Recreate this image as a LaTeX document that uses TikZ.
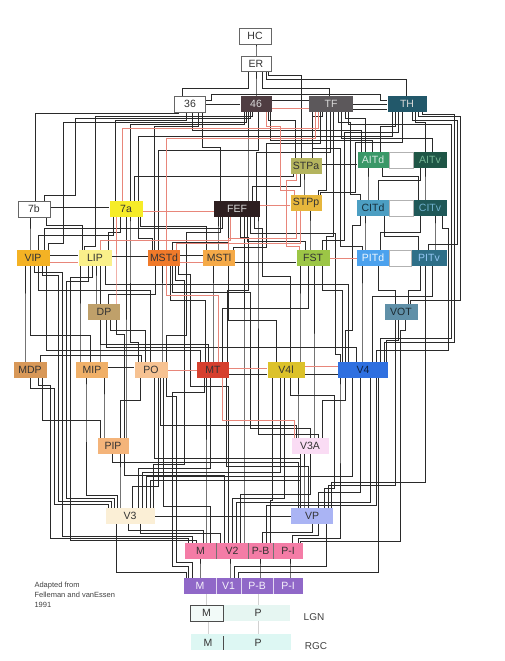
\documentclass[tikz,border=0pt]{standalone}
\usepackage{fontspec}
\setmainfont{Liberation Sans}
\usetikzlibrary{backgrounds}
\definecolor{wireK}{HTML}{2A2A2A}
\definecolor{wireR}{HTML}{E8867A}
\definecolor{c46}{HTML}{4F3D42}
\definecolor{cTF}{HTML}{5C585B}
\definecolor{cTH}{HTML}{22586A}
\definecolor{cSTPa}{HTML}{B4B45E}
\definecolor{cAITd}{HTML}{3A9868}
\definecolor{cAITv}{HTML}{1F5646}
\definecolor{c7a}{HTML}{F6EC28}
\definecolor{cFEF}{HTML}{2E1F20}
\definecolor{cSTPp}{HTML}{E6B63C}
\definecolor{cCITd}{HTML}{4C9EC2}
\definecolor{cCITv}{HTML}{1F5858}
\definecolor{cVIP}{HTML}{F4B224}
\definecolor{cLIP}{HTML}{FAF08A}
\definecolor{cMSTd}{HTML}{F07A2A}
\definecolor{cMSTl}{HTML}{F5AA48}
\definecolor{cFST}{HTML}{9CC646}
\definecolor{cPITd}{HTML}{4CA2EE}
\definecolor{cPITv}{HTML}{2E6F88}
\definecolor{cDP}{HTML}{BFA06A}
\definecolor{cVOT}{HTML}{6090A8}
\definecolor{cMDP}{HTML}{D89858}
\definecolor{cMIP}{HTML}{F0B068}
\definecolor{cPO}{HTML}{F6C292}
\definecolor{cMT}{HTML}{D6402E}
\definecolor{cVfl}{HTML}{DCC22A}
\definecolor{cVf}{HTML}{2F70E0}
\definecolor{cPIP}{HTML}{F4B47A}
\definecolor{cVtA}{HTML}{FADCF4}
\definecolor{cVt}{HTML}{FBEFD6}
\definecolor{cVP}{HTML}{AAB4F4}
\definecolor{cVtwo}{HTML}{F47CA6}
\definecolor{cVone}{HTML}{9068C8}
\definecolor{cLGN}{HTML}{E6F6F2}
\definecolor{cRGC}{HTML}{DDF7F3}
\newcommand{\wire}[8][wk]{%
  \path (#4,0) coordinate (wl) (#8,0) coordinate (wu) (0,#7) coordinate (wy);
  \draw[#1] (#2.north -| wl) |- (#6,#5) |- (wu |- wy) -- (#3.south -| wu);}
\newcommand{\hwire}[4][wk]{%
  \path (0,#4) coordinate (wy);
  \draw[#1] (#2.east |- wy) -- (#3.west |- wy);}

\begin{document}
\begin{tikzpicture}[x=1pt, y=-1pt,
  area/.style={minimum height=16pt, inner sep=0pt, font=\fontsize{10.5}{12}\selectfont, text=black!80},
  plain/.style={area, draw=black!60, fill=white, line width=0.5pt},
  dark/.style={area, text=white!85!black},
  wk/.style={draw=wireK, line width=0.55pt},
  wr/.style={draw=wireR, line width=0.5pt},
  tewhite/.style={fill=white, draw=black!30, line width=0.4pt},
  faint/.style={draw=black!18, line width=0.5pt},
  tag/.style={font=\fontsize{10}{12}\selectfont, text=black!75},
]
\useasboundingbox (0,0) rectangle (504,661);

\node[plain, minimum width=32pt] (HC) at (255,36) {HC};
\node[plain, minimum width=30pt, minimum height=15pt] (ER) at (256,64) {ER};
\node[plain, minimum width=31pt] (a36) at (190,104) {36};
\node[dark, fill=c46, minimum width=31pt] (a46) at (256,104) {46};
\node[dark, fill=cTF, minimum width=44pt] (TF) at (331,104) {TF};
\node[dark, fill=cTH, minimum width=39pt] (TH) at (407,104) {TH};
\node[area, fill=cSTPa, minimum width=31pt] (STPa) at (306,166) {STPa};
\node[area, fill=cAITd, minimum width=31pt, text=white!80!cAITd] (AITd) at (373,160) {AITd};
\node[area, fill=cAITv, minimum width=33pt, text=cAITd!70!white] (AITv) at (430,160) {AITv};
\node[plain, minimum width=32pt] (a7b) at (34,209) {7b};
\node[area, fill=c7a, minimum width=33pt] (a7a) at (126,209) {7a};
\node[dark, fill=cFEF, minimum width=46pt] (FEF) at (237,209) {FEF};
\node[area, fill=cSTPp, minimum width=31pt] (STPp) at (306,203) {STPp};
\node[area, fill=cCITd, minimum width=32pt, text=black!70!cCITd] (CITd) at (373,208) {CITd};
\node[area, fill=cCITv, minimum width=33pt, text=cCITd!80!white] (CITv) at (430,208) {CITv};
\node[area, fill=cVIP, minimum width=33pt] (VIP) at (33,258) {VIP};
\node[area, fill=cLIP, minimum width=33pt] (LIP) at (95,258) {LIP};
\node[area, fill=cMSTd, minimum width=32pt] (MSTd) at (164,258) {MSTd};
\node[area, fill=cMSTl, minimum width=32pt] (MSTl) at (219,258) {MSTl};
\node[area, fill=cFST, minimum width=33pt] (FST) at (313,258) {FST};
\node[area, fill=cPITd, minimum width=32pt, text=white!90!cPITd] (PITd) at (373,258) {PITd};
\node[area, fill=cPITv, minimum width=35pt, text=cPITd!60!white] (PITv) at (429,258) {PITv};
\node[area, fill=cDP, minimum width=32pt] (DP) at (104,312) {DP};
\node[area, fill=cVOT, minimum width=33pt, text=black!70!cVOT] (VOT) at (401,312) {VOT};
\node[area, fill=cMDP, minimum width=33pt] (MDP) at (30,370) {MDP};
\node[area, fill=cMIP, minimum width=32pt] (MIP) at (92,370) {MIP};
\node[area, fill=cPO, minimum width=33pt] (PO) at (151,370) {PO};
\node[area, fill=cMT, minimum width=32pt] (MT) at (213,370) {MT};
\node[area, fill=cVfl, minimum width=37pt] (V4l) at (286,370) {V4l};
\node[area, fill=cVf, minimum width=50pt, text=black!70!cVf] (V4) at (363,370) {V4};
\node[area, fill=cPIP, minimum width=31pt] (PIP) at (113,446) {PIP};
\node[area, fill=cVtA, minimum width=37pt] (V3A) at (310,446) {V3A};
\node[area, fill=cVt, minimum width=49pt] (V3) at (130,516) {V3};
\node[area, fill=cVP, minimum width=42pt] (VP) at (312,516) {VP};
\node[area, fill=cVtwo, minimum width=31pt] (V2m) at (200.5,551) {M};
\node[area, fill=cVtwo, minimum width=32pt] (V2c) at (232,551) {V2};
\node[area, fill=cVtwo, minimum width=25pt] (V2pb) at (260.5,551) {P-B};
\node[area, fill=cVtwo, minimum width=30pt] (V2pi) at (288,551) {P-I};
\node[area, fill=cVone, minimum width=32pt, text=white!92!cVone] (V1m) at (200,586) {M};
\node[area, fill=cVone, minimum width=25pt, text=white!92!cVone] (V1c) at (228.5,586) {V1};
\node[area, fill=cVone, minimum width=32pt, text=white!92!cVone] (V1pb) at (257,586) {P-B};
\node[area, fill=cVone, minimum width=30pt, text=white!92!cVone] (V1pi) at (288,586) {P-I};
\draw[black!55, line width=0.4pt] (V2m.north east) -- (V2m.south east)
  (V2c.north east) -- (V2c.south east) (V2pb.north east) -- (V2pb.south east);
\draw[white!75!cVone, line width=0.4pt] (V1m.north east) -- (V1m.south east)
  (V1c.north east) -- (V1c.south east) (V1pb.north east) -- (V1pb.south east);

\fill[cLGN] (190,605) rectangle (290,621);
\node[area, draw=black!70, fill=cLGN!50!white, minimum width=33pt] (LGNm) at (206.5,613) {M};
\node[area] (LGNp) at (258,613) {P};
\node[tag] (LGN) at (314,617) {LGN};
\fill[cRGC] (191,634) rectangle (291,650);
\node[area] (RGCm) at (208,643) {M};
\node[area] (RGCp) at (258,643) {P};
\draw[black!70, line width=0.9pt] (223,636) -- (223,650);
\node[tag] (RGC) at (316,646) {RGC};
\node[anchor=north west, align=left, font=\fontsize{7.5}{10}\selectfont, text=black!75] (credit)
  at (31,579) {Adapted from\\Felleman and vanEssen\\1991};

\begin{scope}[on background layer]
\draw[tewhite] (AITd.north east) rectangle (AITv.south west);
\draw[tewhite] (CITd.north east) rectangle (CITv.south west);
\draw[tewhite] (PITd.north east) rectangle (PITv.south west);
\draw[faint] (V1m.south -| LGNm) -- (LGNm.north);
\draw[faint] (V1pb.south -| LGNp) -- (LGNp.north);
\draw[faint] (LGNm.south -| RGCm) -- (RGCm.north);
\draw[faint] (LGNp.south) -- (RGCp.north);

\foreach \lw/\uw/\xa/\ya/\xb in {ER/HC/256/48/256, a46/ER/256/85/256, a36/ER/182/88/248,
  TF/ER/329/88/262, TH/ER/406/79/266, STPa/ER/301/75/268, a7b/a36/35/113/178,
  VIP/a7b/30/240/30, VIP/a7a/38/235/113, VIP/FEF/44/228/222, LIP/a7a/108/232/120,
  LIP/a7b/82/225/46, MSTd/a7a/152/238/138, MSTd/a46/158/150/258, MSTd/a36/154/126/198,
  MSTd/FEF/172/242/228, MSTl/FEF/218/235/218, MSTl/a7a/206/226/140, FST/STPp/310/230/310,
  FST/TF/326/236/333, FST/FEF/305/241/247, STPp/STPa/304/185/304, STPp/TF/318/190/326,
  STPa/a46/295/120/268, STPa/TF/312/116/322, AITd/TF/365/118/345, AITd/TH/380/126/395,
  AITv/TH/425/122/415, AITv/TF/432/138/341, AITd/a46/372/140/270, AITd/a36/361/130/192,
  CITd/AITd/368/185/368, CITd/AITv/378/180/420, CITv/AITv/425/185/425, CITv/AITd/418/176/382,
  PITd/CITd/365/230/365, PITd/CITv/380/232/420, PITv/CITv/435/230/435, PITv/CITd/418/236/384,
  VOT/PITd/395/290/378, VOT/PITv/408/290/420, V4/VOT/386/340/398, V4/PITd/362/300/362,
  V4/PITv/372/296/432, V4/FST/342/290/322, V4/LIP/348/284/105, V4/DP/356/347/106,
  V4l/MSTl/276/320/228, V4l/FST/300/320/300, MT/MSTd/205/300/170, MT/MSTl/213/300/213,
  MT/FST/222/308/308, MT/VIP/200/350/46, MT/LIP/208/344/100, PO/VIP/150/290/38,
  PO/DP/145/330/110, PO/MSTd/162/300/162, MIP/LIP/80/340/80, MIP/VIP/90/335/30,
  MIP/DP/100/328/100, MDP/VIP/25/320/25, DP/LIP/96/285/96, DP/MSTd/108/294/155,
  PIP/PO/120/400/140, PIP/MIP/104/410/104, PIP/MDP/100/420/42, PIP/DP/124/334/116,
  PIP/a7a/126/420/126, V3A/V4/322/400/345, V3A/V4l/298/410/298, V3A/PO/296/425/160,
  V3A/FST/314/400/314, V3/MT/138/468/210, V3/V4l/142/472/280, V3/V4/146/476/352,
  V3/V3A/150/480/300, V3/PIP/120/480/120, V3/PO/132/486/158, VP/V3A/304/480/304,
  VP/PIP/298/462/112, VP/PO/300/458/154, VP/MT/308/466/226, VP/V4/318/492/360,
  VP/VOT/328/485/395, VP/PITv/331/482/425, V2m/V3/203/530/128, V2c/V3/220/533/140,
  V2m/MT/206/500/206, V2m/PO/210/506/163, V2c/V4/236/502/370, V2c/V4l/232/498/284,
  V2c/V3A/240/494/310, V2c/PIP/224/475/124, V2c/FEF/244/400/244, V2pb/V4/266/505/376,
  V2pb/V4l/270/500/272, V2pb/VP/262/532/312, V2pi/VP/292/535/318, V1m/V2m/200/568/200,
  V1c/V2c/230/568/230, V1pb/V2pb/260/568/260, V1pi/V2pi/290/568/290, V1m/V3/186/572/116,
  V1c/V4/238/572/378, V1c/VP/234/566/326, FEF/a46/248/160/248, FEF/a36/220/147/202,
  FEF/TF/256/152/330, FEF/STPa/252/186/300, a7a/a46/130/124/244, a7a/a36/115/120/186,
  a7a/STPa/134/176/293, a7a/TH/138/136/392}
  {\wire{\lw}{\uw}{\xa}{\ya}{\xa}{\ya}{\xb}}

\foreach \lw/\uw/\xa/\ya/\xm/\yb/\xb in {V4/TH/384/342/454/114/422, V4/TF/380/338/451/124/348,
  V4/CITv/376/350/448/228/442, VOT/TH/410/300/460/116/418, PITv/TH/428/244/457/120/412,
  V4/CITd/345/330/352/225/360, V4/FEF/340/354/335/233/250, PITd/TF/362/246/340/148/312,
  FST/TH/322/240/344/132/398, STPp/TH/320/192/355/142/402, CITd/TF/360/194/350/122/338,
  MT/FEF/227/290/248/237/240, PO/a7a/138/342/130/225/130, PO/FEF/166/335/186/232/220,
  MSTl/TF/233/247/266/143/320, LIP/a46/84/246/95/116/252, a7b/a46/44/195/75/118/250,
  VIP/a46/48/243/63/122/246, V3/MDP/108/504/54/388/30, V3/VIP/111/501/58/275/42,
  V3/LIP/114/498/66/281/88, V3/MIP/117/495/86/390/86, V3/MSTd/153/464/184/280/175,
  V2m/MDP/188/538/50/385/38, V2m/VIP/192/536/62/272/34, V2m/LIP/196/540/70/277/92,
  V2c/MSTd/228/386/190/274/178, V2pi/V4/298/538/340/390/340, V2pi/VOT/300/541/400/330/405,
  V1m/MT/188/566/172/392/204, V1m/PO/192/562/176/396/166, VP/V4l/324/488/334/395/290,
  V3A/MSTd/310/428/250/292/172, V3A/FEF/318/434/258/225/258, V4l/FEF/290/276/262/228/254}
  {\wire{\lw}{\uw}{\xa}{\ya}{\xm}{\yb}{\xb}}

\foreach \lw/\uw/\xa/\ya/\xb in {V3A/MT/294/420/222, MT/MSTd/218/295/166, LIP/FEF/100/240/230,
  a7a/TF/122/128/318, MSTd/TF/166/138/315, MSTl/STPp/228/238/296, MSTd/STPp/176/243/300,
  DP/a7a/116/290/116}
  {\wire[wr]{\lw}{\uw}{\xa}{\ya}{\xa}{\ya}{\xb}}
\wire[wr]{FST}{STPa}{299}{246}{286}{180}{296}
\wire[wr]{STPp}{a46}{294}{190}{280}{126}{266}

\foreach \lw/\rw/\yy in {a36/a46/104, a46/TF/100, TF/TH/104, TF/TH/109, a7b/a7a/207,
  STPa/AITd/164, VIP/LIP/255, LIP/MSTd/256, MSTd/MSTl/255, MSTl/FST/262, MIP/PO/367,
  MT/V4l/374, V4l/V4/374, V3/VP/516}
  {\hwire{\lw}{\rw}{\yy}}
\foreach \lw/\rw/\yy in {FEF/STPp/205, a7a/FEF/211, V4l/V4/366, MT/V4l/368, PO/MT/370,
  VIP/LIP/262, MSTd/MSTl/262, FST/PITd/258, a46/TF/108}
  {\hwire[wr]{\lw}{\rw}{\yy}}

\draw[wk] ([yshift=4pt]a36.east) -- ++(6,0) |- (380,94) |- ([yshift=4pt]TH.west);
\path (141,0) coordinate (wa) (40,0) coordinate (wb);
\draw[wk] (PO.north -| wa) |- (40,355) -- (MDP.north -| wb);
\end{scope}
\end{tikzpicture}
\end{document}
